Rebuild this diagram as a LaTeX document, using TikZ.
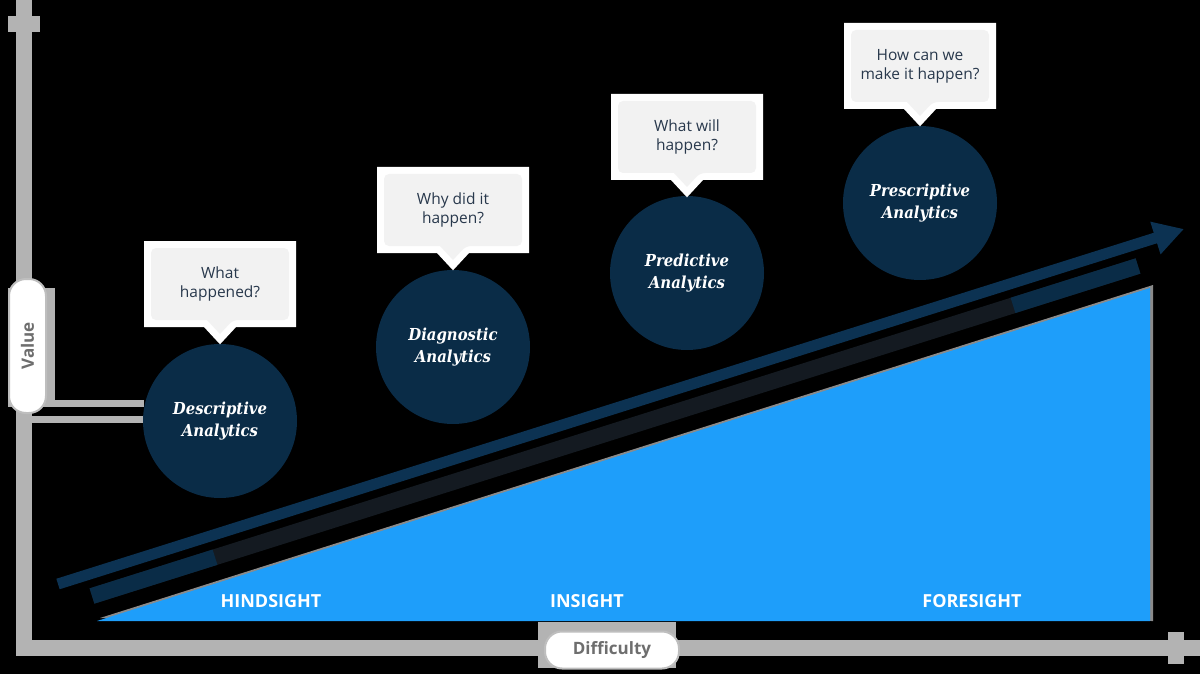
\documentclass[tikz,border=0pt]{standalone}
\usepackage{fontspec}
\setmainfont{Open Sans}
\newfontfamily\circfont{DejaVu Serif Condensed}
\usetikzlibrary{arrows.meta}
\definecolor{axisgray}{RGB}{179,179,179}
\definecolor{pillborder}{RGB}{190,190,190}
\definecolor{pilltext}{RGB}{110,110,110}
\definecolor{navy}{RGB}{10,44,71}
\definecolor{arrownavy}{RGB}{12,50,82}
\definecolor{shadownavy}{RGB}{20,26,33}
\definecolor{skyblue}{RGB}{30,158,250}
\definecolor{bubgray}{RGB}{242,242,242}
\definecolor{bubtextcol}{RGB}{40,56,76}
\definecolor{edgegray}{RGB}{138,138,138}
\tikzset{
  circ/.style={circle, fill=navy, minimum size=154pt, inner sep=0pt, align=center,
    text=white, font=\circfont\bfseries\itshape\fontsize{16.5}{22}\selectfont},
  bubtext/.style={align=center, text=bubtextcol, inner sep=0pt,
    font=\fontsize{15.5}{19}\selectfont},
  bubwhite/.style={draw=white, fill=white, line width=14pt, line join=miter},
  bubfill/.style={fill=bubgray, rounded corners=5pt},
  sight/.style={text=white, font=\bfseries\fontsize{18}{20}\selectfont},
  pill/.style={fill=white, draw=pillborder, line width=2pt, rounded corners=17pt},
  pilltxt/.style={text=pilltext, font=\bfseries\fontsize{17}{20}\selectfont},
  axisbar/.style={fill=axisgray},
  mainarrow/.style={draw=arrownavy, line width=11pt, -{Triangle[length=30pt,width=32pt]}},
  shadowline/.style={line width=16pt},
}
\newcommand\mybubble[4]{%
  \path[bubwhite] (#2-69,#3-36) -- (#2+69,#3-36) -- (#2+69,#3+36) -- (#2+13,#3+36)
     -- (#2,#3+50) -- (#2-13,#3+36) -- (#2-69,#3+36) -- cycle;
  \path[bubfill] (#2-69,#3-36) -- (#2+69,#3-36) -- (#2+69,#3+36) -- (#2+13,#3+36)
     [sharp corners] -- (#2,#3+50) -- (#2-13,#3+36) [rounded corners=5pt] -- (#2-69,#3+36) -- cycle;
  \node[bubtext] (#1) at (#2,#3) {#4};}
\begin{document}
\begin{tikzpicture}[x=1pt,y=-1pt]
\useasboundingbox (0,0) rectangle (1200,674);
\fill[black] (0,0) rectangle (1200,674);
% axes
\fill[axisbar] (16,0) rectangle (32,656);
\fill[axisbar] (8,16) rectangle (40,32);
\fill[axisbar] (16,640) rectangle (1200,656);
\fill[axisbar] (1168,632) rectangle (1184,664);
% shadow artefacts near the value pill
\fill[axisbar] (32,400) rectangle (144,407);
\fill[axisbar] (32,416) rectangle (144,423);
\fill[axisbar] (8,288) rectangle (55,407);
% value pill
\node[pill, minimum width=37pt, minimum height=134pt, inner sep=0pt] (valuepill) at (27.5,346) {};
\node[pilltxt, rotate=90] (valuetxt) at (valuepill.center) {Value};
% difficulty pill
\fill[axisbar] (538,622) rectangle (676,668);
\node[pill, minimum width=134pt, minimum height=37pt, inner sep=0pt] (diffpill) at (612,650) {};
\node[pilltxt] (difftxt) at (diffpill.center) {Difficulty};
% shadow line under the arrow
\coordinate (s0) at (92,596);
\coordinate (s1) at (1138,266);
\coordinate (s0b) at (215,557.2);
\coordinate (s1b) at (1013,305.4);
\draw[shadowline, draw=shadownavy] (s0) -- (s1);
\draw[shadowline, draw=navy] (s0) -- (s0b);
\draw[shadowline, draw=navy] (s1b) -- (s1);
% triangle
\fill[edgegray] (100,618) -- (1153,285) -- (1153,621) -- cycle;
\fill[skyblue] (97,621) -- (1150,288) -- (1150,621) -- cycle;
\node[sight] (hind) at (271,601) {HINDSIGHT};
\node[sight] (ins) at (587,601) {INSIGHT};
\node[sight] (fore) at (972,601) {FORESIGHT};
% main arrow
\coordinate (a0) at (58,584);
\coordinate (a1) at (1184,229);
\draw[mainarrow] (a0) -- (a1);
% circles
\node[circ] (desc) at (220,421) {Descriptive\\Analytics};
\node[circ] (diag) at (453,347) {Diagnostic\\Analytics};
\node[circ] (pred) at (687,273) {Predictive\\Analytics};
\node[circ] (pres) at (920,203) {Prescriptive\\Analytics};
% bubbles
\mybubble{b1}{220}{284}{What\\happened?}
\mybubble{b2}{453}{210}{Why did it\\happen?}
\mybubble{b3}{687}{137}{What will\\happen?}
\mybubble{b4}{920}{66}{How can we\\make it happen?}
\end{tikzpicture}
\end{document}
